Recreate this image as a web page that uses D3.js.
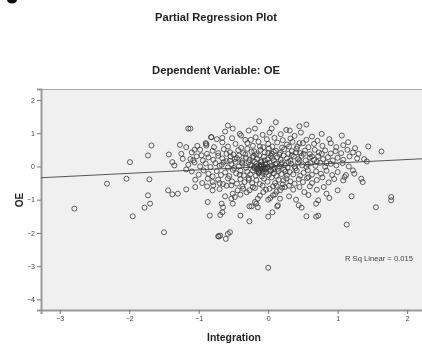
<!DOCTYPE html>
<html>
<head>
<meta charset="utf-8">
<script src="https://cdn.jsdelivr.net/npm/d3@7"></script>
<style>
  html, body { margin: 0; padding: 0; background: #fff; }
  svg { display: block; font-family: 'Liberation Sans', Arial, sans-serif; }
</style>
</head>
<body>
<svg id="chart"></svg>
<script>
const w = 422
const h = 345

const xTicks = [-3, -2, -1, 0, 1, 2]
const yTicks = [2, 1, 0, -1, -2, -3, -4]

// fit line through origin, slope
const fitIntercept = 0.0
const fitSlope = 0.104
const rSqLabel = 'R Sq Linear = 0.015'

// scattered points away from the main cloud [Integration, OE]
const outliers = [
  [-2.79, -1.27], [-2.32, -0.52], [-1.99, 0.13], [-2.04, -0.37], [-1.95, -1.5],
  [-1.73, 0.33], [-1.68, 0.63], [-1.71, -0.39], [-1.73, -0.87], [-1.7, -1.12],
  [-1.78, -1.24], [-1.5, -1.98], [-1.44, -0.72], [-1.38, -0.84], [-1.3, -0.82],
  [-1.18, -0.69], [-1.05, -0.62], [-1.15, 1.14], [-1.12, 1.14], [-1.43, 0.36],
  [-1.38, 0.13], [-1.35, 0.03], [-1.27, 0.65], [-1.25, 0.38], [-1.23, 0.23],
  [-1.18, 0.58], [-1.18, -0.09], [-1.06, 0.5], [-1.08, 0.18], [-0.96, 0.33],
  [-0.89, 0.63], [-0.82, 0.88], [-0.87, -1.07], [-0.84, -1.48], [-0.72, -2.1],
  [-0.71, -2.11], [-0.67, -1.12], [-0.65, -1.23], [-0.66, -1.38], [-0.69, -1.46],
  [-0.51, -1.12], [-0.4, -1.48], [-0.27, -1.65], [-0.27, -1.2], [-0.15, -1.23],
  [0.0, -1.51], [0.06, -1.38], [0.13, -1.2], [-0.69, -2.08], [-0.61, -2.18],
  [-0.55, -1.98], [-0.58, -2.03], [-0.53, -0.57], [-0.51, -0.82], [-0.48, -0.92],
  [-0.53, -0.97], [-0.79, -0.57], [-0.8, -0.72], [-0.36, -0.67], [-0.27, -0.72],
  [-0.22, -0.62], [-0.19, -1.07], [-0.15, -0.97], [-0.17, -1.12], [-0.24, -1.2],
  [-0.07, -0.77], [0.02, -0.67], [0.07, -0.87], [0.17, -0.72], [0.24, -0.62],
  [0.0, -1.0], [-0.13, 1.36], [0.11, 1.33], [-0.58, 1.23], [-0.51, 1.14],
  [-0.19, 1.14], [-0.82, 0.88], [-0.66, 0.86], [-0.89, 0.68], [0.45, 1.21],
  [0.55, 1.26], [0.31, 1.08], [0.05, 1.14], [-0.39, 0.93], [0.77, 0.98],
  [1.06, 0.93], [1.15, 0.73], [1.44, 0.6], [1.63, 0.45], [1.77, -0.92],
  [1.77, -1.02], [1.55, -1.23], [1.13, -1.75], [0.84, -0.82], [1.0, -0.72],
  [1.2, -0.9], [1.34, -0.37], [1.36, -0.47], [1.22, -0.12], [1.24, -0.22],
  [1.1, -0.32], [1.08, -0.42], [0.72, -1.48], [0.69, -1.51], [0.55, -1.5],
  [0.44, -1.17], [0.48, -1.24], [0.69, -1.12], [0.72, -1.02], [0.14, -1.17],
  [0.17, -0.97], [0.0, -3.05]
]

// main cloud [Integration, OE]
const cloud = [
  [-0.62, 1.05], [-0.41, 0.98], [-0.28, 1.08], [-0.08, 0.95], [0.02, 1.02], [0.18, 0.97],
  [0.26, 1.1], [0.38, 0.92], [0.47, 1.02], [0.63, 0.9], [-0.74, 0.82], [-0.52, 0.85],
  [-0.33, 0.8], [-0.18, 0.88], [-0.02, 0.82], [0.09, 0.86], [0.21, 0.79], [0.32, 0.84],
  [0.55, 0.8], [0.71, 0.77], [0.88, 0.82],
  [-1.02, 0.62], [-0.9, 0.7], [-0.78, 0.58], [-0.66, 0.72], [-0.58, 0.6], [-0.47, 0.68],
  [-0.39, 0.56], [-0.3, 0.7], [-0.22, 0.62], [-0.14, 0.74], [-0.07, 0.58], [0.0, 0.68],
  [0.06, 0.6], [0.13, 0.72], [0.2, 0.57], [0.27, 0.66], [0.35, 0.74], [0.42, 0.6],
  [0.5, 0.7], [0.58, 0.58], [0.66, 0.68], [0.78, 0.62], [0.9, 0.7], [0.98, 0.58],
  [1.08, 0.64], [1.25, 0.55],
  [-1.1, 0.42], [-0.98, 0.5], [-0.88, 0.38], [-0.8, 0.47], [-0.72, 0.4], [-0.64, 0.52],
  [-0.55, 0.43], [-0.5, 0.36], [-0.43, 0.49], [-0.36, 0.4], [-0.3, 0.53], [-0.24, 0.44],
  [-0.17, 0.37], [-0.11, 0.5], [-0.05, 0.42], [0.01, 0.54], [0.05, 0.38], [0.11, 0.47],
  [0.17, 0.41], [0.23, 0.52], [0.29, 0.38], [0.34, 0.46], [0.41, 0.53], [0.46, 0.4],
  [0.53, 0.48], [0.6, 0.37], [0.67, 0.5], [0.73, 0.42], [0.82, 0.48], [0.9, 0.39],
  [0.97, 0.46], [1.05, 0.4], [1.14, 0.5], [1.22, 0.42], [1.3, 0.38],
  [-1.12, 0.22], [-1.03, 0.3], [-0.94, 0.18], [-0.86, 0.27], [-0.79, 0.2], [-0.72, 0.32],
  [-0.66, 0.24], [-0.6, 0.16], [-0.54, 0.3], [-0.48, 0.22], [-0.42, 0.33], [-0.37, 0.17],
  [-0.32, 0.26], [-0.27, 0.2], [-0.21, 0.31], [-0.16, 0.23], [-0.1, 0.16], [-0.06, 0.29],
  [-0.01, 0.21], [0.04, 0.32], [0.08, 0.18], [0.13, 0.27], [0.18, 0.2], [0.22, 0.33],
  [0.27, 0.24], [0.32, 0.17], [0.37, 0.3], [0.43, 0.22], [0.48, 0.32], [0.54, 0.18],
  [0.6, 0.27], [0.66, 0.2], [0.72, 0.31], [0.79, 0.22], [0.86, 0.28], [0.93, 0.18],
  [1.0, 0.26], [1.08, 0.2], [1.17, 0.3], [1.28, 0.24], [1.38, 0.22], [1.42, 0.15],
  [-1.15, 0.05], [-1.06, 0.12], [-0.98, 0.0], [-0.9, 0.09], [-0.83, -0.02], [-0.76, 0.1],
  [-0.7, 0.02], [-0.64, 0.13], [-0.58, -0.03], [-0.53, 0.07], [-0.47, 0.14], [-0.42, 0.0],
  [-0.37, 0.09], [-0.32, -0.04], [-0.28, 0.12], [-0.24, 0.03], [-0.2, -0.05], [-0.17, 0.08],
  [-0.13, 0.01], [-0.1, 0.13], [-0.07, -0.03], [-0.04, 0.06], [-0.01, -0.01], [0.02, 0.11],
  [0.05, 0.02], [0.09, -0.04], [0.12, 0.09], [0.16, 0.0], [0.2, 0.12], [0.24, 0.04],
  [0.28, -0.03], [0.33, 0.08], [0.38, 0.0], [0.43, 0.12], [0.49, 0.03], [0.55, -0.02],
  [0.61, 0.1], [0.68, 0.02], [0.75, 0.11], [0.82, -0.01], [0.9, 0.08], [0.98, 0.03],
  [1.07, 0.1], [1.16, 0.0],
  [-0.15, -0.06], [-0.11, -0.02], [-0.08, -0.09], [-0.12, -0.12], [-0.05, -0.07],
  [-0.09, 0.02], [-0.14, -0.15], [-0.06, -0.14],
  [-1.1, -0.15], [-1.0, -0.25], [-0.93, -0.12], [-0.86, -0.22], [-0.8, -0.3], [-0.74, -0.14],
  [-0.68, -0.26], [-0.62, -0.18], [-0.56, -0.29], [-0.51, -0.1], [-0.46, -0.21], [-0.4, -0.13],
  [-0.35, -0.27], [-0.3, -0.16], [-0.26, -0.24], [-0.22, -0.12], [-0.18, -0.28], [-0.14, -0.2],
  [-0.09, -0.3], [-0.03, -0.18], [0.01, -0.26], [0.04, -0.11], [0.08, -0.21], [0.12, -0.29],
  [0.15, -0.14], [0.19, -0.23], [0.23, -0.1], [0.27, -0.27], [0.31, -0.17], [0.36, -0.24],
  [0.41, -0.12], [0.46, -0.28], [0.51, -0.19], [0.57, -0.11], [0.63, -0.25], [0.69, -0.15],
  [0.76, -0.22], [0.84, -0.13], [0.92, -0.26], [1.0, -0.17], [1.12, -0.26],
  [-1.05, -0.4], [-0.95, -0.5], [-0.87, -0.37], [-0.8, -0.47], [-0.72, -0.4], [-0.65, -0.53],
  [-0.58, -0.36], [-0.52, -0.45], [-0.45, -0.52], [-0.4, -0.38], [-0.34, -0.47], [-0.28, -0.35],
  [-0.23, -0.5], [-0.17, -0.41], [-0.12, -0.53], [-0.06, -0.37], [-0.01, -0.46], [0.05, -0.33],
  [0.1, -0.5], [0.15, -0.4], [0.21, -0.54], [0.26, -0.36], [0.32, -0.45], [0.38, -0.52],
  [0.44, -0.38], [0.5, -0.47], [0.56, -0.35], [0.63, -0.5], [0.7, -0.41], [0.78, -0.33],
  [0.87, -0.48], [0.95, -0.38],
  [-0.88, -0.6], [-0.7, -0.68], [-0.6, -0.58], [-0.44, -0.72], [-0.37, -0.6], [-0.31, -0.78],
  [-0.19, -0.65], [-0.08, -0.58], [-0.03, -0.7], [0.07, -0.6], [0.12, -0.76], [0.2, -0.64],
  [0.3, -0.58], [0.36, -0.7], [0.45, -0.62], [0.52, -0.77], [0.6, -0.6], [0.7, -0.7],
  [0.8, -0.62],
  [-0.62, -0.9], [-0.4, -0.85], [-0.12, -0.88], [0.03, -0.95], [0.1, -0.84], [0.3, -0.9],
  [0.4, -1.0], [0.58, -0.86], [0.88, -0.95]
]

// extra overlapping points in the dark core [Integration, OE]
const core = [
  [-0.45, 0.25], [-0.38, 0.12], [-0.33, 0.36], [-0.26, 0.05], [-0.23, 0.27], [-0.19, 0.14],
  [-0.16, -0.1], [-0.13, 0.33], [-0.1, 0.05], [-0.08, -0.2], [-0.05, 0.18], [-0.03, -0.08],
  [0.0, 0.4], [0.03, -0.15], [0.06, 0.26], [0.1, 0.07], [0.14, -0.07], [0.16, 0.36],
  [0.19, 0.06], [0.25, -0.15], [0.29, 0.14], [0.34, 0.34], [0.39, -0.06], [0.45, 0.17],
  [0.51, 0.38], [0.57, 0.07], [0.63, 0.3], [0.7, 0.14], [0.77, 0.38], [0.84, 0.1],
  [-0.6, 0.38], [-0.67, 0.05], [-0.55, 0.17], [-0.49, -0.05], [-0.41, -0.25], [-0.2, 0.45],
  [-0.28, -0.4], [0.08, 0.44], [0.22, -0.42], [0.4, 0.42], [0.58, -0.32], [-0.12, 0.6],
  [0.3, 0.6], [-0.7, -0.5], [0.12, -0.58], [-0.25, 0.8], [0.45, 0.7], [-0.2, -0.02],
  [-0.04, -0.04], [-0.1, -0.07], [-0.17, 0.0], [-0.02, 0.1], [0.07, -0.1], [-0.13, -0.18]
]

const plot = { left: 41, right: 428, top: 89, bottom: 310 }

const svg = d3.select('#chart').attr('width', w).attr('height', h)

const x = d3.scaleLinear().domain([-3.27, 2.3]).range([plot.left, plot.right])
const y = d3.scaleLinear().domain([-4.32, 2.33]).range([plot.bottom, plot.top])

const defs = svg.append('defs')
defs.append('filter').attr('id', 'soft')
  .append('feGaussianBlur').attr('stdDeviation', 0.35)

const root = svg.append('g').attr('filter', 'url(#soft)')

// cut-off mark at the top-left corner
root.append('ellipse')
  .attr('cx', 12).attr('cy', 0).attr('rx', 5).attr('ry', 3.5)
  .attr('fill', '#111')

root.append('rect')
  .attr('x', plot.left).attr('y', plot.top)
  .attr('width', plot.right - plot.left).attr('height', plot.bottom - plot.top)
  .attr('fill', '#f0f0f0')

root.append('line')
  .attr('x1', plot.left).attr('x2', plot.right)
  .attr('y1', plot.top + 0.5).attr('y2', plot.top + 0.5)
  .attr('stroke', '#aaa')

const yAxis = root.append('g')
  .attr('transform', `translate(${plot.left},0)`)
  .call(d3.axisLeft(y).tickValues(yTicks).tickSize(4).tickPadding(2).tickFormat(d3.format('d')))
const xAxis = root.append('g')
  .attr('transform', `translate(0,${plot.bottom})`)
  .call(d3.axisBottom(x).tickValues(xTicks).tickSize(4).tickPadding(2).tickFormat(d3.format('d')))

for (const g of [xAxis, yAxis]) {
  g.select('.domain').attr('stroke', '#999').attr('stroke-width', 2)
  g.selectAll('.tick line').attr('stroke', '#777')
  g.selectAll('.tick text')
    .attr('fill', '#444')
    .style('font-size', '7px')
    .style('font-family', "'Liberation Sans', Arial, sans-serif")
}

// fit line
root.append('line')
  .attr('x1', x(-3.27)).attr('y1', y(fitIntercept + fitSlope * -3.27))
  .attr('x2', x(2.3)).attr('y2', y(fitIntercept + fitSlope * 2.3))
  .attr('stroke', '#555')
  .attr('stroke-width', 1)

root.append('g')
  .selectAll('circle')
  .data(outliers.concat(cloud, core))
  .join('circle')
  .attr('cx', (d) => x(d[0]))
  .attr('cy', (d) => y(d[1]))
  .attr('r', 2.5)
  .attr('fill', 'none')
  .attr('stroke', '#3a3a3a')
  .attr('stroke-opacity', 0.8)
  .attr('stroke-width', 1)

root.append('text')
  .text(rSqLabel)
  .attr('x', 345).attr('y', 260.5)
  .attr('textLength', 68).attr('lengthAdjust', 'spacingAndGlyphs')
  .style('font-size', '7px')
  .attr('fill', '#444')

const titles = [
  { text: 'Partial Regression Plot', x: 216, y: 20.5, len: 122 },
  { text: 'Dependent Variable: OE', x: 216, y: 74, len: 128 },
  { text: 'Integration', x: 234, y: 341, len: 54 }
]
root.selectAll('text.title')
  .data(titles)
  .join('text')
  .attr('class', 'title')
  .attr('x', (d) => d.x - d.len / 2)
  .attr('y', (d) => d.y)
  .attr('textLength', (d) => d.len)
  .attr('lengthAdjust', 'spacingAndGlyphs')
  .style('font-size', '11px')
  .style('font-weight', 'bold')
  .attr('fill', '#222')
  .text((d) => d.text)

root.append('text')
  .text('OE')
  .attr('transform', 'translate(23,200) rotate(-90)')
  .attr('text-anchor', 'middle')
  .style('font-size', '10px')
  .style('font-weight', 'bold')
  .attr('fill', '#222')
</script>
</body>
</html>
